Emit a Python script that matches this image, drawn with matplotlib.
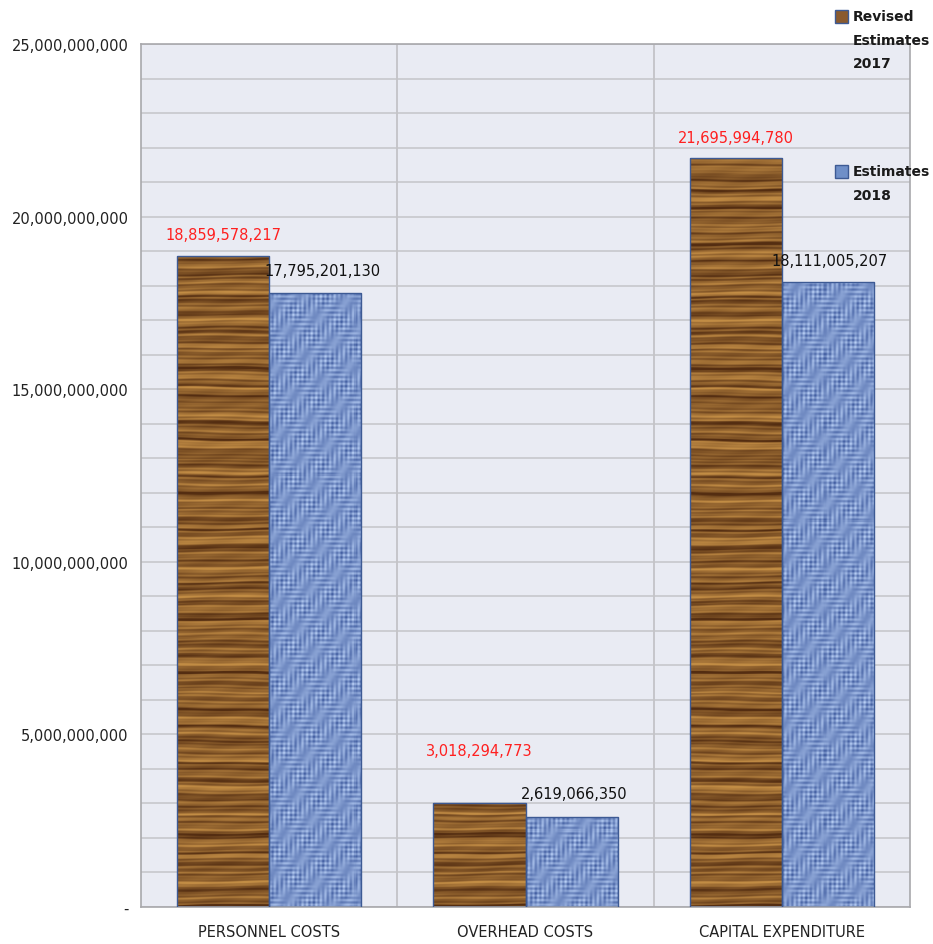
import numpy as np
import matplotlib
matplotlib.use("Agg")
from matplotlib import pyplot as plt
from matplotlib.patches import Rectangle

categories = ["PERSONNEL COSTS", "OVERHEAD COSTS", "CAPITAL EXPENDITURE"]
revised_2017 = [18859578217, 3018294773, 21695994780]
estimates_2018 = [17795201130, 2619066350, 18111005207]
y_ticks = [0, 5e9, 10e9, 15e9, 20e9, 25e9]
y_tick_labels = ["-", "5,000,000,000", "10,000,000,000", "15,000,000,000",
                 "20,000,000,000", "25,000,000,000"]

W, H = 933, 945
fig = plt.figure(figsize=(W / 100, H / 100), dpi=100)
ax = fig.add_axes([141 / W, 1 - 908 / H, (910 - 141) / W, (908 - 45) / H])
ax.set_facecolor("#e9ebf3")

x = np.arange(len(categories))
bw = 0.36

# procedural textures (decoration only), sized to axes pixels
ny, nx = 863, 769
yy, xx = np.mgrid[0:ny, 0:nx].astype(float)
yw = yy + 0.7 * np.sin(xx / 41 + yy / 50) + 0.4 * np.sin(xx / 17 + yy / 7)
t = (0.55
     + 0.20 * np.sin(2 * np.pi * yw / 13.7)
     + 0.14 * np.sin(2 * np.pi * yw / 5.3 + 1.1)
     + 0.12 * np.sin(2 * np.pi * yw / 31.1 + 2.3)
     + 0.08 * np.sin(2 * np.pi * yw / 3.1 + 0.4)
     + 0.05 * np.sin(xx / 9 + yy / 2.7))
streak = np.sin(2 * np.pi * yw / 17.9 + 0.8)
t = t - 0.35 * np.clip(streak - 0.8, 0, None) / 0.2
t = np.clip(t, 0, 1)[..., None]
dark = np.array([0.33, 0.18, 0.07])
light = np.array([0.76, 0.55, 0.27])
wood = dark + (light - dark) * t

u = (0.48 + 0.22 * np.cos(2 * np.pi * xx / 4.6) * (0.5 + 0.5 * np.sin(yy / 5.3 + xx / 11))
     + 0.22 * np.cos(2 * np.pi * yy / 4.6) * (0.5 + 0.5 * np.sin(xx / 6.1 - yy / 9))
     + 0.10 * np.sin(xx / 2.3 + yy / 3.7))
u = np.clip(u, 0, 1)[..., None]
bdark = np.array([0.27, 0.38, 0.64])
blight = np.array([0.72, 0.81, 0.96])
weave = bdark + (blight - bdark) * u

xlim = (-0.5, 2.5)
ylim = (0, 25e9)
edge = "#3d5a94"

b1 = ax.bar(x - bw / 2, revised_2017, bw, color="#8a5a2e", lw=0, zorder=2)
b2 = ax.bar(x + bw / 2, estimates_2018, bw, color="#6f8fc8", lw=0, zorder=2)
for bars, tex in ((b1, wood), (b2, weave)):
    for p in bars:
        im = ax.imshow(tex, extent=(xlim[0], xlim[1], ylim[0], ylim[1]),
                       aspect="auto", origin="upper", interpolation="nearest",
                       zorder=2.5)
        im.set_clip_path(p)
ax.bar(x - bw / 2, revised_2017, bw, fill=False, edgecolor=edge, lw=1, zorder=3)
ax.bar(x + bw / 2, estimates_2018, bw, fill=False, edgecolor=edge, lw=1, zorder=3)

ax.set_xlim(*xlim)
ax.set_ylim(*ylim)

# gridlines
ax.set_yticks(y_ticks)
ax.set_yticklabels(y_tick_labels, fontsize=10.5, color="#222222")
ax.set_yticks(np.arange(0, 25e9 + 1, 1e9), minor=True)
ax.grid(axis="y", which="both", color="#c4c4c8", lw=1.1, zorder=0)
ax.set_axisbelow(True)
for xv in [0.5, 1.5]:
    ax.axvline(xv, color="#bcbcc0", lw=1.1, zorder=0.5)
ax.set_xticks(x)
ax.set_xticklabels(categories, fontsize=10.5, color="#222222")
ax.tick_params(axis="both", which="both", length=0)
ax.tick_params(axis="y", pad=9)
ax.tick_params(axis="x", pad=12)
for s in ax.spines.values():
    s.set_color("#a8a8ac")
    s.set_linewidth(1.2)

# value labels
red_dy = [21, 52, 21]
blk_dy = [22, 23, 21]
blk_dx = [7, 3, 2]
for i in range(len(categories)):
    ax.annotate(f"{revised_2017[i]:,}", (x[i] - bw / 2, revised_2017[i]),
                xytext=(0, red_dy[i] * 0.72), textcoords="offset points",
                ha="center", va="center", color="#ff2020", fontsize=10.5)
    ax.annotate(f"{estimates_2018[i]:,}", (x[i] + bw / 2, estimates_2018[i]),
                xytext=(blk_dx[i] * 0.72, blk_dy[i] * 0.72), textcoords="offset points",
                ha="center", va="center", color="#111111", fontsize=10.5)

# legend (manual)
fig.patches.append(Rectangle((835 / W, 1 - 24 / H), 13 / W, 13 / H, transform=fig.transFigure,
                             facecolor="#8a5a2e", edgecolor=edge, lw=1))
fig.patches.append(Rectangle((835 / W, 1 - 179 / H), 13 / W, 13 / H, transform=fig.transFigure,
                             facecolor="#6f8fc8", edgecolor=edge, lw=1))
for txt, ypx in [("Revised", 17), ("Estimates", 41), ("2017", 64),
                 ("Estimates", 172), ("2018", 196)]:
    fig.text(853 / W, 1 - ypx / H, txt, ha="left", va="center",
             fontsize=10, fontweight="bold", color="#1a1a1a")

fig.savefig("out.png", dpi=100)
